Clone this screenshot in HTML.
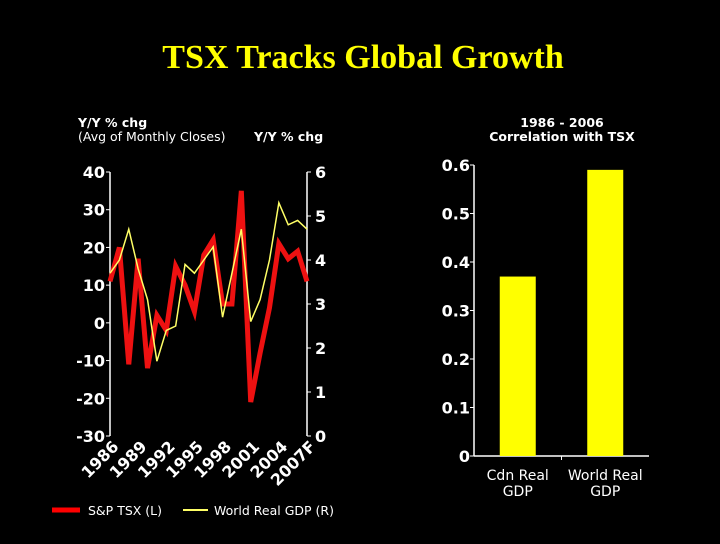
<!DOCTYPE html>
<html><head><meta charset="utf-8"><style>
html,body{margin:0;padding:0;background:#000;}
body{width:720px;height:540px;overflow:hidden;position:relative;font-family:"DejaVu Sans","Liberation Sans",sans-serif;}
</style></head><body>
<svg id="c" width="720" height="540" viewBox="0 0 720 540" xmlns="http://www.w3.org/2000/svg">
<text x="363" y="68" text-anchor="middle" font-family="Liberation Serif,serif" font-weight="bold" font-size="34" fill="#ffff00">TSX Tracks Global Growth</text>
<text x="78" y="127" font-size="12.5" font-weight="bold" fill="#fff">Y/Y % chg</text>
<text x="78" y="141" font-size="12.5" fill="#fff">(Avg of Monthly Closes)</text>
<text x="254" y="141" font-size="12.5" font-weight="bold" fill="#fff">Y/Y % chg</text>
<text x="562" y="127" text-anchor="middle" font-size="12.5" font-weight="bold" fill="#fff">1986 - 2006</text>
<text x="562" y="141" text-anchor="middle" font-size="12.5" font-weight="bold" fill="#fff">Correlation with TSX</text>
<g id="lc"></g><g id="bc"></g>
<line x1="52" y1="510" x2="80" y2="510" stroke="#ff0000" stroke-width="5"/>
<text x="88" y="515" font-size="12.5" fill="#fff">S&amp;P TSX (L)</text>
<line x1="183" y1="510" x2="208" y2="510" stroke="#ffff66" stroke-width="2"/>
<text x="214" y="515" font-size="12.5" fill="#fff">World Real GDP (R)</text>
</svg>
<script>
const years=[1986,1987,1988,1989,1990,1991,1992,1993,1994,1995,1996,1997,1998,1999,2000,2001,2002,2003,2004,2005,2006,2007];
const yearLabels=["1986","1989","1992","1995","1998","2001","2004","2007F"];
const tsx=[11,20,-11,17,-12,2,-2,15,10,3,18,22,5,5,35,-21,-8,4,21,17,19,11];
const gdp=[3.7,4.0,4.7,3.8,3.1,1.7,2.4,2.5,3.9,3.7,4.0,4.3,2.7,3.7,4.7,2.6,3.1,4.0,5.3,4.8,4.9,4.7];
const leftTicks=[40,30,20,10,0,-10,-20,-30];
const rightTicks=[6,5,4,3,2,1,0];
const barCats=[["Cdn Real","GDP"],["World Real","GDP"]];
const barVals=[0.37,0.59];
const barTicks=[0.6,0.5,0.4,0.3,0.2,0.1,0];
const NS="http://www.w3.org/2000/svg";
function mk(p,t,a){const e=document.createElementNS(NS,t);for(const k in a)e.setAttribute(k,a[k]);p.appendChild(e);return e;}
const lc=document.getElementById('lc');
const X0=110,X1=307,YT=172,YB=436;
const xs=i=>X0+(X1-X0)*i/(years.length-1);
const yl=v=>YB-(v+30)/70*(YB-YT);
const yr=v=>YB-v/6*(YB-YT);
let a=mk(lc,'line',{x1:X0,y1:YT,x2:X0,y2:YB,stroke:'#fff','stroke-width':1.5});

a=mk(lc,'line',{x1:X1,y1:YT,x2:X1,y2:YB,stroke:'#fff','stroke-width':1.5});

leftTicks.forEach(v=>{mk(lc,'line',{x1:X0-4,y1:yl(v),x2:X0,y2:yl(v),stroke:'#fff'});
const t=mk(lc,'text',{x:X0-5,y:yl(v)+6,'text-anchor':'end','font-size':16,'font-weight':'bold',fill:'#fff'});t.textContent=v;
});
rightTicks.forEach(v=>{mk(lc,'line',{x1:X1,y1:yr(v),x2:X1+4,y2:yr(v),stroke:'#fff'});
const t=mk(lc,'text',{x:X1+8,y:yr(v)+6,'font-size':16,'font-weight':'bold',fill:'#fff'});t.textContent=v;
});
yearLabels.forEach((l,i)=>{const x=xs(i*3)+4,y=YB+6;
const t=mk(lc,'text',{x:x,y:y,'text-anchor':'end','font-size':16,'font-weight':'bold',fill:'#fff',transform:`rotate(-45 ${x} ${y}) translate(0 8)`});t.textContent=l;
});
let p=mk(lc,'polyline',{points:tsx.map((v,i)=>xs(i)+','+yl(v)).join(' '),fill:'none',stroke:'#ee1111','stroke-width':5,'stroke-linejoin':'miter'});

p=mk(lc,'polyline',{points:gdp.map((v,i)=>xs(i)+','+yr(v)).join(' '),fill:'none',stroke:'#ffff66','stroke-width':1.5});

const bc=document.getElementById('bc');
const BX0=474,BX1=649,BT=165,BB=456;
const yb=v=>BB-v/0.6*(BB-BT);
const bw=(BX1-BX0)/barCats.length;
a=mk(bc,'line',{x1:BX0,y1:BT,x2:BX0,y2:BB,stroke:'#fff','stroke-width':1.5});

a=mk(bc,'line',{x1:BX0,y1:BB,x2:BX1,y2:BB,stroke:'#fff','stroke-width':1.5});

mk(bc,'line',{x1:BX0+bw,y1:BB,x2:BX0+bw,y2:BB+4,stroke:'#fff'});
barTicks.forEach(v=>{mk(bc,'line',{x1:BX0-4,y1:yb(v),x2:BX0,y2:yb(v),stroke:'#fff'});
const t=mk(bc,'text',{x:BX0-4,y:yb(v)+6,'text-anchor':'end','font-size':16,'font-weight':'bold',fill:'#fff'});t.textContent=v;
});
barVals.forEach((v,i)=>{const cx=BX0+bw*(i+0.5);
const r=mk(bc,'rect',{x:cx-18,y:yb(v),width:36,height:BB-yb(v),fill:'#ffff00'});

barCats[i].forEach((l,j)=>{const t=mk(bc,'text',{x:cx,y:BB+24+j*16,'text-anchor':'middle','font-size':14,fill:'#fff'});t.textContent=l;
});});
</script>
</body></html>
